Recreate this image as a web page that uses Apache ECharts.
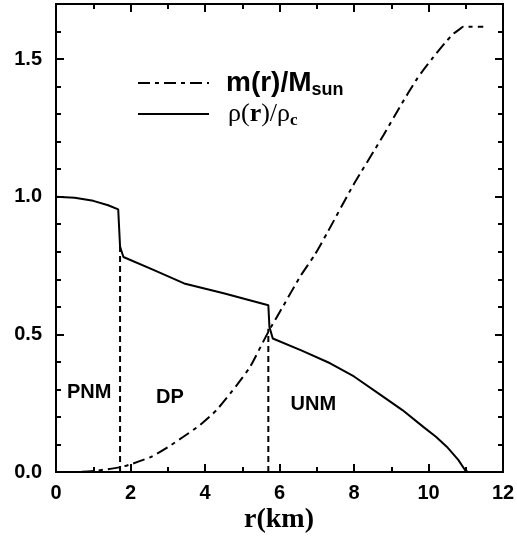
<!DOCTYPE html>
<html>
<head>
<meta charset="utf-8">
<script src="https://cdn.jsdelivr.net/npm/echarts@6/dist/echarts.min.js"></script>
<style>
  html, body { margin: 0; background: #fff; }
  #chart { width: 517px; height: 540px; }
</style>
</head>
<body>
<div id="chart"></div>
<script>
// density profile rho(r)/rho_c
const rhoR = [0, 0.5, 1.0, 1.4, 1.67, 1.72, 1.81, 2.6, 3.44, 4.5, 5.70, 5.73, 5.82, 6.6, 7.36, 8.0, 8.79, 9.3, 9.86, 10.2, 10.49, 10.8, 10.98, 11.07];
const rhoV = [1.0, 0.996, 0.985, 0.969, 0.954, 0.818, 0.781, 0.735, 0.685, 0.649, 0.606, 0.527, 0.485, 0.441, 0.395, 0.347, 0.273, 0.225, 0.164, 0.128, 0.092, 0.044, 0.007, 0];

// enclosed mass m(r)/M_sun
const massR = [0, 0.6, 1.09, 1.72, 2.07, 2.57, 3.0, 3.42, 3.87, 4.31, 4.85, 5.21, 5.70, 6.1, 6.55, 6.95, 7.27, 7.98, 8.79, 9.23, 9.7, 10.13, 10.45, 10.67, 10.85, 10.93, 11.47];
const massV = [0, 0, 0.005, 0.017, 0.031, 0.056, 0.09, 0.128, 0.171, 0.225, 0.315, 0.382, 0.509, 0.603, 0.709, 0.79, 0.866, 1.042, 1.223, 1.326, 1.43, 1.507, 1.56, 1.592, 1.61, 1.617, 1.617];

// phase boundaries (dashed verticals)
const boundR = [1.72, 5.70];
const boundTop = [0.818, 0.52];

// phase region labels
const regionNames = ['PNM', 'DP', 'UNM'];
const regionR = [0.89, 3.06, 6.91];
const regionY = [0.289, 0.27, 0.247];

const xTicks = { min: 0, max: 12, interval: 2 };
const yTicks = { min: 0, max: 1.7, major: 0.5, minor: 0.1 };

const chart = echarts.init(document.getElementById('chart'));

const black = '#000';
const sans = 'Liberation Sans';
const serif = 'Liberation Serif';

function xAxisDef(position, showLabel) {
  return {
    type: 'value',
    position,
    min: xTicks.min,
    max: xTicks.max,
    interval: xTicks.interval,
    axisLine: { show: true, onZero: false, lineStyle: { color: black, width: 2 } },
    axisTick: { show: true, inside: true, length: 8, lineStyle: { color: black, width: 2 } },
    minorTick: { show: true, splitNumber: 2, length: 5, lineStyle: { color: black, width: 2 } },
    splitLine: { show: false },
    axisLabel: {
      show: showLabel,
      margin: 11,
      color: black,
      fontFamily: sans,
      fontWeight: 'bold',
      fontSize: 20,
    },
  };
}

function yAxisDef(position, step, tickLen, showLabel) {
  return {
    type: 'value',
    position,
    min: yTicks.min,
    max: yTicks.max,
    interval: step,
    axisLine: { show: true, onZero: false, lineStyle: { color: black, width: 2 } },
    axisTick: { show: true, inside: true, length: tickLen, lineStyle: { color: black, width: 2 } },
    splitLine: { show: false },
    axisLabel: {
      show: showLabel,
      margin: 14,
      color: black,
      fontFamily: sans,
      fontWeight: 'bold',
      fontSize: 20,
      formatter: (v) => (Math.round(v * 10) % 5 === 0 ? v.toFixed(1) : ''),
    },
  };
}

const legendText = {
  color: black,
  rich: {
    mb: { fontFamily: sans, fontWeight: 'bold', fontSize: 28, color: black, padding: [0, 0, 0, 12] },
    ms: { fontFamily: sans, fontWeight: 'bold', fontSize: 18, color: black, padding: [14, 0, 0, 0] },
    ra: { fontFamily: serif, fontSize: 26, color: black, padding: [0, 0, 0, 14] },
    rb: { fontFamily: serif, fontWeight: 'bold', fontSize: 26, color: black },
    rc: { fontFamily: serif, fontSize: 26, color: black },
    rs: { fontFamily: serif, fontWeight: 'bold', fontSize: 17, color: black, padding: [14, 0, 0, 0] },
  },
};

function legendDef(seriesName, top, formatter) {
  return {
    data: [seriesName],
    left: 137,
    top,
    padding: 0,
    itemWidth: 71,
    itemHeight: 14,
    selectedMode: false,
    itemStyle: { opacity: 0 },
    textStyle: legendText,
    formatter,
  };
}

const option = {
  animation: false,
  grid: { left: 56, right: 14, top: 4, bottom: 68, outerBoundsMode: 'none' },
  legend: [
    legendDef('mass', 69, () => '{mb|m(r)/M}{ms|sun}'),
    legendDef('rho', 101, () => '{ra|ρ(}{rb|r}{rc|)/ρ}{rs|c}'),
  ],
  // x-axis title
  graphic: [
    {
      type: 'text',
      x: 279,
      y: 520,
      silent: true,
      style: {
        text: 'r(km)',
        fill: black,
        font: 'bold 28px "Liberation Serif"',
        align: 'center',
        verticalAlign: 'middle',
      },
    },
  ],
  xAxis: [xAxisDef('bottom', true), xAxisDef('top', false)],
  yAxis: [
    yAxisDef('left', yTicks.major, 8, true),
    yAxisDef('left', yTicks.minor, 5, false),
    yAxisDef('right', yTicks.major, 8, false),
    yAxisDef('right', yTicks.minor, 5, false),
  ],
  series: [
    {
      name: 'mass',
      type: 'line',
      yAxisIndex: 0,
      data: massR.map((r, i) => [r, massV[i]]),
      symbol: 'none',
      smooth: 0.2,
      color: black,
      lineStyle: { color: black, width: 2, type: [12, 5, 4, 5] },
    },
    {
      name: 'rho',
      type: 'line',
      yAxisIndex: 0,
      data: rhoR.map((r, i) => [r, rhoV[i]]),
      symbol: 'none',
      color: black,
      lineStyle: { color: black, width: 2 },
    },
    ...boundR.map((r, i) => ({
      name: 'boundary' + (i + 1),
      type: 'line',
      yAxisIndex: 0,
      data: [[r, 0], [r, boundTop[i]]],
      symbol: 'none',
      color: black,
      lineStyle: { color: black, width: 2, type: [6, 4] },
    })),
    {
      name: 'regions',
      type: 'scatter',
      yAxisIndex: 0,
      symbolSize: 0,
      silent: true,
      itemStyle: { color: black, opacity: 1 },
      data: regionNames.map((n, i) => ({ name: n, value: [regionR[i], regionY[i]] })),
      label: {
        show: true,
        position: 'inside',
        formatter: (p) => p.name,
        color: black,
        opacity: 1,
        textBorderWidth: 0,
        fontFamily: sans,
        fontWeight: 'bold',
        fontSize: 20,
      },
    },
  ],
};

chart.setOption(option);
</script>
</body>
</html>
